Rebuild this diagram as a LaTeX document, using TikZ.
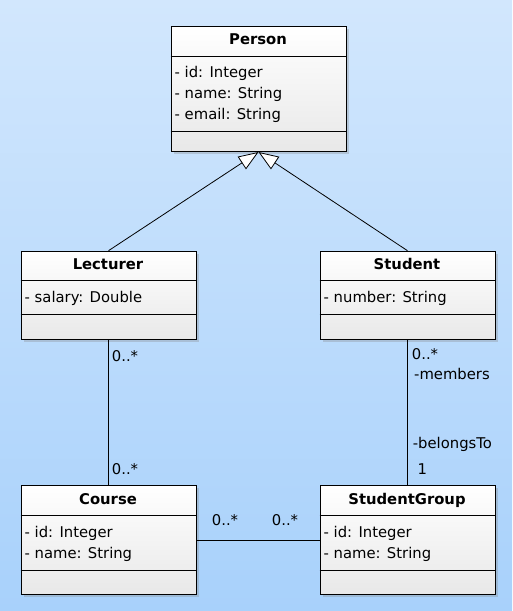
\documentclass[tikz,border=0pt]{standalone}
\usepackage{fontspec}
\setmainfont{DejaVu Sans}
\usetikzlibrary{arrows.meta,shadows}

\definecolor{bgtop}{RGB}{210,231,253}
\definecolor{bgbottom}{RGB}{168,209,251}
\newcommand\umlfont{\fontsize{14.8}{21}\selectfont}

\tikzset{
  classbox/.style={draw, line width=1pt, anchor=north west, minimum width=175pt,
    inner sep=0pt, top color=white, bottom color=black!9,
    drop shadow={shadow xshift=2.5pt, shadow yshift=-2.5pt, opacity=0.3}},
  title/.style={anchor=base, inner sep=0pt, font=\umlfont\bfseries},
  attr/.style={anchor=base west, inner sep=0pt},
  mult/.style={anchor=base west, inner sep=0pt},
  sep/.style={line width=1pt},
  assoc/.style={line width=0.8pt},
  gen/.style={line width=0.8pt, -{Triangle[open, fill=white, length=20pt, width=15pt, line width=0.8pt]}}
}

\begin{document}
\begin{tikzpicture}[x=1pt, y=-1pt, font=\umlfont]

% background
\shade[top color=bgtop, bottom color=bgbottom] (0,0) rectangle (512,611);

% Person
\node[classbox, minimum height=125pt] (person) at (170.5,26) {};
\draw[sep] (170.5,56) -- (345.5,56);
\draw[sep] (170.5,131.5) -- (345.5,131.5);
\node[title] (person-t) at (258,44) {Person};
\node[attr] (person-a1) at (174.5,77.3) {- id: Integer};
\node[attr] (person-a2) at (174.5,98.6) {- name: String};
\node[attr] (person-a3) at (174.5,119.9) {- email: String};

% Lecturer
\node[classbox, minimum height=88.5pt] (lecturer) at (20.5,250.7) {};
\draw[sep] (20.5,280.7) -- (195.5,280.7);
\draw[sep] (20.5,314) -- (195.5,314);
\node[title] (lecturer-t) at (108,269.3) {Lecturer};
\node[attr] (lecturer-a1) at (24.5,302) {- salary: Double};

% Student
\node[classbox, minimum height=88.5pt] (student) at (319.5,250.7) {};
\draw[sep] (319.5,280.7) -- (494.5,280.7);
\draw[sep] (319.5,314) -- (494.5,314);
\node[title] (student-t) at (407,269.3) {Student};
\node[attr] (student-a1) at (323.5,302) {- number: String};

% Course
\node[classbox, minimum height=108.7pt] (course) at (20.5,485.3) {};
\draw[sep] (20.5,515) -- (195.5,515);
\draw[sep] (20.5,570) -- (195.5,570);
\node[title] (course-t) at (108,504) {Course};
\node[attr] (course-a1) at (24.5,537.3) {- id: Integer};
\node[attr] (course-a2) at (24.5,558.6) {- name: String};

% StudentGroup
\node[classbox, minimum height=108.7pt] (group) at (319.5,485.3) {};
\draw[sep] (319.5,515) -- (494.5,515);
\draw[sep] (319.5,570) -- (494.5,570);
\node[title] (group-t) at (407,504) {StudentGroup};
\node[attr] (group-a1) at (323.5,537.3) {- id: Integer};
\node[attr] (group-a2) at (323.5,558.6) {- name: String};

% generalisations
\draw[gen] (lecturer.north) -- (person.south);
\draw[gen] (student.north) -- (person.south);

% associations
\draw[assoc] (lecturer.south) -- (course.north);
\draw[assoc] (student.south) -- (group.north);
\draw[assoc] (course.east) -- (group.west);

% multiplicities and roles
\node[mult] (m1) at (111.7,361) {0..*};
\node[mult] (m2) at (111.7,474) {0..*};
\node[mult] (m3) at (411.7,359) {0..*};
\node[mult] (r1) at (414,379.3) {-members};
\node[mult] (r2) at (412.7,448.3) {-belongsTo};
\node[mult] (m4) at (417.3,474) {1};
\node[mult] (m5) at (211.7,525) {0..*};
\node[mult] (m6) at (271.7,525) {0..*};

\end{tikzpicture}
\end{document}
